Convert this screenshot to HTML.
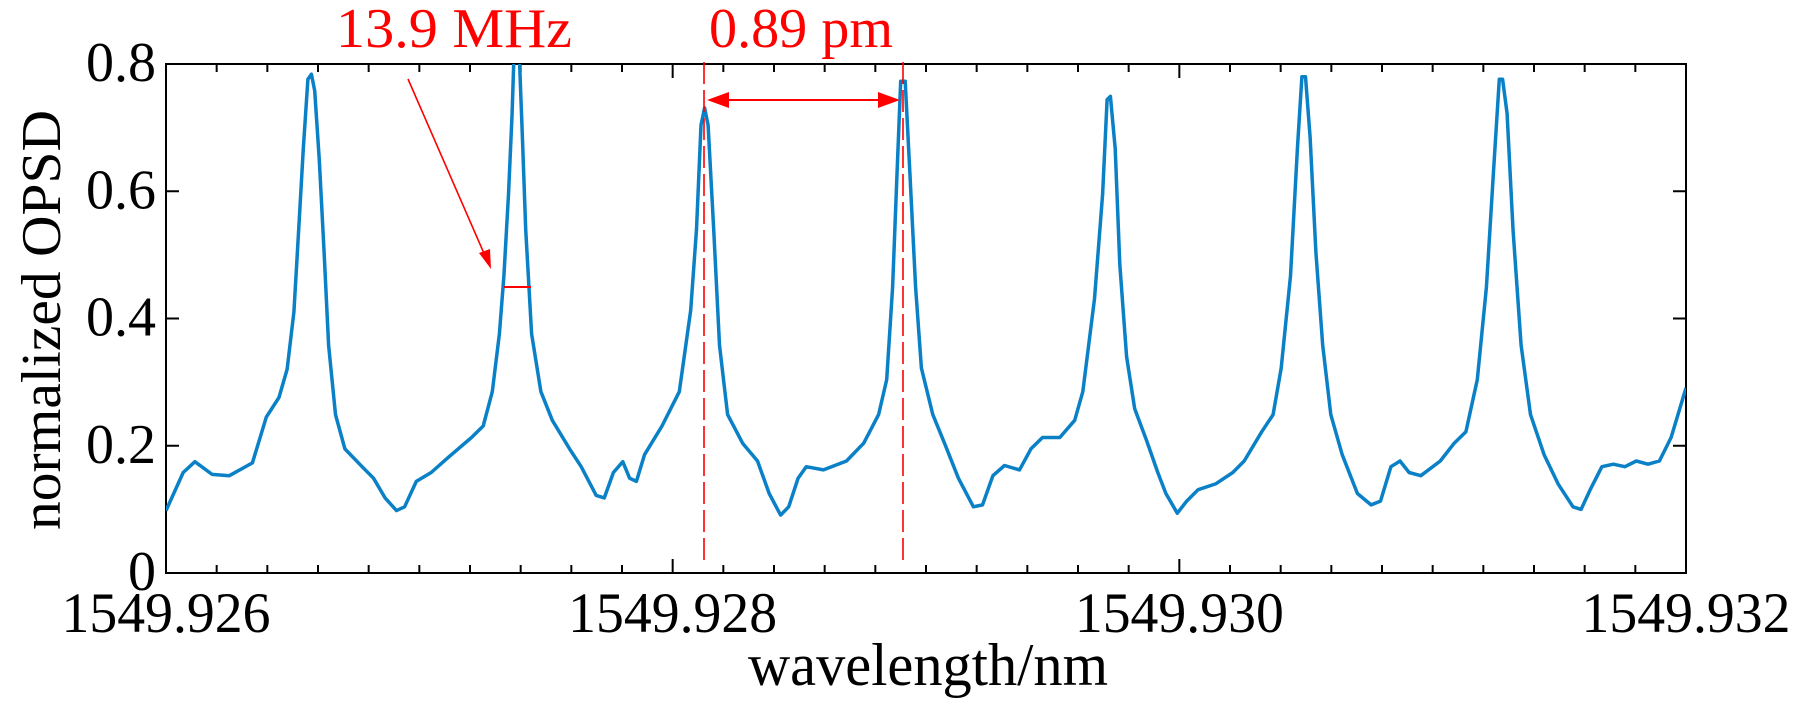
<!DOCTYPE html>
<html><head><meta charset="utf-8"><style>
html,body{margin:0;padding:0;background:#fff;}
svg{display:block;}
text{font-family:"Liberation Serif",serif;}
</style></head><body>
<svg id="chart" width="1807" height="716" viewBox="0 0 1807 716" xmlns="http://www.w3.org/2000/svg">
<defs><clipPath id="plotclip"><rect x="166" y="64" width="1520" height="509"/></clipPath></defs>
<g id="axes"></g>
<g id="series" clip-path="url(#plotclip)"></g>
<g id="annot"></g>
</svg>
<script>
// wavelength offset from 1549.926 nm, in pm
const wlOffsetPm = [0,68,114,182,250,341,396,446,478,505,524,542,560,574,587,605,624,642,669,706,774,819,865,910,942,988,1047,1115,1206,1252,1288,1316,1334,1352,1366,1375,1393,1407,1420,1443,1480,1525,1593,1639,1698,1730,1766,1803,1830,1857,1889,1958,2026,2071,2094,2112,2126,2140,2162,2185,2217,2276,2335,2381,2426,2458,2495,2527,2595,2686,2754,2813,2845,2868,2886,2900,2918,2936,2959,2982,3027,3073,3128,3187,3223,3264,3310,3369,3414,3460,3528,3587,3619,3665,3697,3715,3728,3747,3765,3792,3824,3870,3915,3947,3992,4029,4074,4143,4211,4256,4325,4370,4402,4439,4466,4484,4498,4516,4539,4566,4598,4643,4703,4757,4794,4835,4871,4907,4953,5030,5085,5131,5176,5212,5240,5263,5276,5294,5317,5349,5386,5440,5495,5554,5586,5622,5668,5713,5759,5804,5850,5895,5941,6000];
const opsdValues = [0.098,0.158,0.175,0.155,0.153,0.173,0.245,0.276,0.32,0.41,0.54,0.667,0.776,0.784,0.758,0.649,0.504,0.358,0.249,0.195,0.167,0.149,0.118,0.098,0.104,0.144,0.158,0.182,0.213,0.231,0.285,0.376,0.467,0.595,0.722,0.83,0.83,0.685,0.54,0.376,0.285,0.24,0.195,0.167,0.122,0.118,0.158,0.175,0.149,0.144,0.186,0.231,0.285,0.413,0.54,0.704,0.731,0.704,0.54,0.358,0.249,0.204,0.176,0.125,0.091,0.104,0.149,0.167,0.162,0.176,0.204,0.249,0.304,0.449,0.631,0.773,0.773,0.631,0.449,0.322,0.249,0.204,0.149,0.104,0.107,0.153,0.169,0.162,0.195,0.213,0.213,0.24,0.285,0.431,0.595,0.744,0.749,0.667,0.485,0.34,0.258,0.209,0.158,0.125,0.094,0.113,0.131,0.14,0.158,0.176,0.222,0.249,0.322,0.467,0.667,0.78,0.78,0.685,0.504,0.358,0.249,0.186,0.125,0.107,0.113,0.167,0.176,0.158,0.153,0.176,0.204,0.222,0.304,0.449,0.631,0.776,0.776,0.722,0.54,0.358,0.249,0.186,0.14,0.104,0.1,0.131,0.167,0.171,0.167,0.176,0.171,0.176,0.213,0.291];
const xTickLabels = ["1549.926","1549.928","1549.930","1549.932"];
const xTickPm = [0,2000,4000,6000];
const yTickValues = [0,0.2,0.4,0.6,0.8];
const yTickLabels = ["0","0.2","0.4","0.6","0.8"];

const NS="http://www.w3.org/2000/svg";
const X0=166,X1=1686,Y0=573,Y1=64;
const xScale=p=>X0+p/6000*(X1-X0);
const yScale=v=>Y0-v/0.8*(Y0-Y1);
function mk(tag,attrs,parent){const e=document.createElementNS(NS,tag);for(const k in attrs)e.setAttribute(k,attrs[k]);parent.appendChild(e);return e;}
const axes=document.getElementById('axes');
const frame=mk('rect',{x:X0,y:Y1,width:X1-X0,height:Y0-Y1,fill:'none',stroke:'#000','stroke-width':2},axes);


for(let i=0;i<=30;i++){
  const x=xScale(i*200);const len=(i%10===0)?14:8;
  const t1=mk('line',{x1:x,x2:x,y1:Y0,y2:Y0-len,stroke:'#000','stroke-width':2},axes);
  
  
  const t2=mk('line',{x1:x,x2:x,y1:Y1,y2:Y1+len,stroke:'#000','stroke-width':2},axes);
  
  
}
xTickLabels.forEach((lab,i)=>{
  const t=mk('text',{x:xScale(xTickPm[i]),y:632,'text-anchor':'middle','font-size':57,textLength:209,lengthAdjust:'spacingAndGlyphs'},axes);
  t.textContent=lab;
  
  
});
yTickValues.forEach((v,i)=>{
  const y=yScale(v);
  if(v>0&&v<0.8){
    const a=mk('line',{x1:X0,x2:X0+13,y1:y,y2:y,stroke:'#000','stroke-width':2},axes);
    
    
    const b=mk('line',{x1:X1,x2:X1-13,y1:y,y2:y,stroke:'#000','stroke-width':2},axes);
    
    
  }
  const t=mk('text',{x:156,y:y+17,'text-anchor':'end','font-size':56},axes);
  t.textContent=yTickLabels[i];
  
  
});
const yt=mk('text',{x:0,y:0,'text-anchor':'middle','font-size':56,textLength:420,lengthAdjust:'spacingAndGlyphs',transform:'translate(60,320) rotate(-90)'},axes);
yt.textContent='normalized OPSD';


const xt=mk('text',{x:928,y:685,'text-anchor':'middle','font-size':60,textLength:360,lengthAdjust:'spacingAndGlyphs'},axes);
xt.textContent='wavelength/nm';



const series=document.getElementById('series');
const d=wlOffsetPm.map((p,i)=>(i?'L':'M')+xScale(p).toFixed(1)+','+yScale(opsdValues[i]).toFixed(1)).join(' ');
const line=mk('path',{d:d,fill:'none',stroke:'#0a80c6','stroke-width':3.5,'stroke-linejoin':'round'},series);



const an=document.getElementById('annot');
const red='#ff0000';
const t1=mk('text',{x:454,y:47,'text-anchor':'middle','font-size':56,fill:red,textLength:236,lengthAdjust:'spacingAndGlyphs'},an);
t1.textContent='13.9 MHz';


const a1=mk('line',{x1:408,y1:79,x2:486,y2:258,stroke:red,'stroke-width':1.6},an);


const h1=mk('polygon',{points:'491,269 479,253 490,249',fill:red},an);


const fw=mk('line',{x1:504,y1:287,x2:531,y2:287,stroke:red,'stroke-width':2},an);


const t2=mk('text',{x:801,y:47,'text-anchor':'middle','font-size':56,fill:red,textLength:184,lengthAdjust:'spacingAndGlyphs'},an);
t2.textContent='0.89 pm';


[704,903].forEach(x=>{
  const l=mk('line',{x1:x,x2:x,y1:62,y2:566,stroke:red,'stroke-width':1.6,'stroke-dasharray':'22,6'},an);
  
  
});
const a2=mk('line',{x1:725,x2:882,y1:100,y2:100,stroke:red,'stroke-width':2},an);


const h2=mk('polygon',{points:'707,100 729,92 729,108',fill:red},an);


const h3=mk('polygon',{points:'900,100 878,92 878,108',fill:red},an);


</script>
</body></html>
